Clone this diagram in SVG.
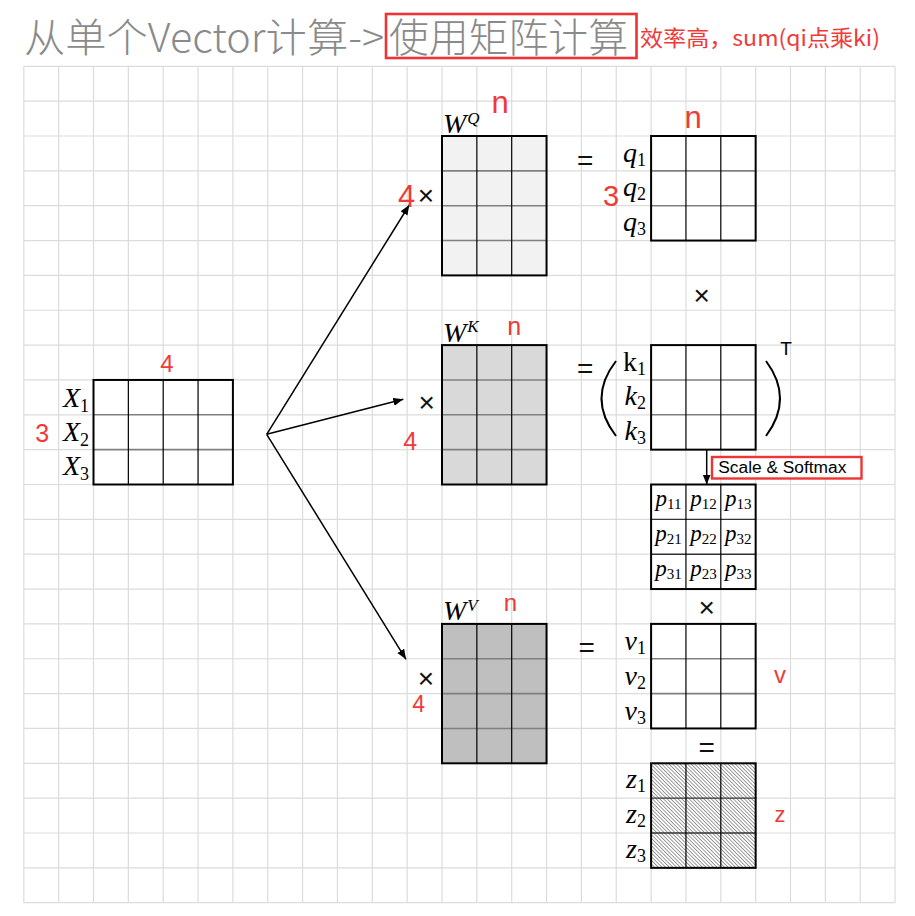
<svg xmlns="http://www.w3.org/2000/svg" width="915" height="916" viewBox="0 0 915 916">
<style>
.grid{stroke:#dcdcdc;stroke-width:1.2;fill:none}
.outer{fill:none;stroke:#000;stroke-width:2}
.vl{stroke:#000;stroke-width:1.2}
.hl{stroke:#808080;stroke-width:1.6}
.hd{stroke:#333;stroke-width:1.4}
.m{font-family:"Liberation Serif","DejaVu Serif",serif;font-style:italic;font-size:28px;fill:#000}
.mu{font-style:normal}
.sub{font-style:normal;font-size:18px}
.sup{font-size:17px}
.pp{font-family:"Liberation Serif","DejaVu Serif",serif;font-style:italic;font-size:23px;text-anchor:middle}
.psub{font-style:normal;font-size:15px}
.red{font-family:"Liberation Sans",Arial,sans-serif;fill:#f03a3a;text-anchor:middle}
.op{font-family:"Liberation Sans",Arial,sans-serif;font-size:28px;text-anchor:middle;fill:#111}
.conn{stroke:#000;stroke-width:1.5;fill:none}
.title{font-family:"Noto Sans CJK SC","Liberation Sans",sans-serif;font-size:40px;font-weight:300;fill:#8a8a8a}
</style>
<defs>
<marker id="ah" markerUnits="userSpaceOnUse" markerWidth="12" markerHeight="10" refX="10" refY="4" orient="auto">
<path d="M0,0 L10,4 L0,8 Z" fill="#000"/>
</marker>
<pattern id="hatch" patternUnits="userSpaceOnUse" width="2.6" height="2.6" patternTransform="rotate(-45)">
<rect width="2.6" height="2.6" fill="#fff"/>
<line x1="0" y1="0" x2="0" y2="2.6" stroke="#3a3a3a" stroke-width="1"/>
</pattern>
</defs>
<rect width="915" height="916" fill="#fff"/>

<g id="title">
<text class="title" x="24" y="51.5" textLength="360" lengthAdjust="spacingAndGlyphs">从单个Vector计算-&gt;</text>
<text class="title" x="389" y="51.5" textLength="239" lengthAdjust="spacingAndGlyphs">使用矩阵计算</text>
<rect x="386" y="14" width="250.5" height="44" fill="none" stroke="#ee3535" stroke-width="2.6"/>
<text x="640" y="46" font-family="'Noto Sans CJK SC','Liberation Sans',sans-serif" font-size="22" fill="#f03a3a" textLength="240" lengthAdjust="spacingAndGlyphs">效率高，sum(qi点乘ki)</text>
</g>

<g id="grid">
<path class="grid" d="M23.8 66.3V902.7M58.65 66.3V902.7M93.5 66.3V902.7M128.35 66.3V902.7M163.2 66.3V902.7M198.05 66.3V902.7M232.9 66.3V902.7M267.75 66.3V902.7M302.6 66.3V902.7M337.45 66.3V902.7M372.3 66.3V902.7M407.15 66.3V902.7M442 66.3V902.7M476.85 66.3V902.7M511.7 66.3V902.7M546.55 66.3V902.7M581.4 66.3V902.7M616.25 66.3V902.7M651.1 66.3V902.7M685.95 66.3V902.7M720.8 66.3V902.7M755.65 66.3V902.7M790.5 66.3V902.7M825.35 66.3V902.7M860.2 66.3V902.7M895.05 66.3V902.7"/>
<path class="grid" d="M23.8 66.3H895.05M23.8 101.15H895.05M23.8 136H895.05M23.8 170.85H895.05M23.8 205.7H895.05M23.8 240.55H895.05M23.8 275.4H895.05M23.8 310.25H895.05M23.8 345.1H895.05M23.8 379.95H895.05M23.8 414.8H895.05M23.8 449.65H895.05M23.8 484.5H895.05M23.8 519.35H895.05M23.8 554.2H895.05M23.8 589.05H895.05M23.8 623.9H895.05M23.8 658.75H895.05M23.8 693.6H895.05M23.8 728.45H895.05M23.8 763.3H895.05M23.8 798.15H895.05M23.8 833H895.05M23.8 867.85H895.05M23.8 902.7H895.05"/>
</g>

<g id="connectors">
<line class="conn" x1="266.7" y1="434.3" x2="409.3" y2="205" marker-end="url(#ah)"/>
<line class="conn" x1="266.7" y1="434.3" x2="403.3" y2="399.3" marker-end="url(#ah)"/>
<line class="conn" x1="266.7" y1="434.3" x2="406" y2="659.3" marker-end="url(#ah)"/>
<line class="conn" x1="706.7" y1="449.65" x2="706.7" y2="484.5" marker-end="url(#ah)"/>
</g>

<g id="X">
<rect x="93.5" y="379.95" width="139.4" height="104.55" fill="#fff"/>
<path class="hl" d="M93.5 414.8H232.9M93.5 449.65H232.9"/>
<path class="vl" d="M128.35 379.95V484.5M163.2 379.95V484.5M198.05 379.95V484.5"/>
<rect class="outer" x="93.5" y="379.95" width="139.4" height="104.55"/>
<text class="m" x="89" y="406.5" text-anchor="end">X<tspan class="sub" dy="5">1</tspan></text>
<text class="m" x="89" y="441.3" text-anchor="end">X<tspan class="sub" dy="5">2</tspan></text>
<text class="m" x="89" y="475" text-anchor="end">X<tspan class="sub" dy="5">3</tspan></text>
<text class="red" x="167" y="372.3" font-size="24">4</text>
<text class="red" x="42.3" y="441.7" font-size="25">3</text>
</g>

<g id="WQ">
<rect x="442" y="136" width="104.55" height="139.4" fill="#f2f2f2"/>
<path class="hl" d="M442 170.85H546.55M442 205.7H546.55M442 240.55H546.55"/>
<path class="vl" d="M476.85 136V275.4M511.7 136V275.4"/>
<rect class="outer" x="442" y="136" width="104.55" height="139.4"/>
<text class="m" x="443" y="132.5" font-size="27">W<tspan class="sup" dx="1" dy="-9">Q</tspan></text>
<text class="red" x="500" y="113.3" font-size="31">n</text>
<text class="red" x="406.5" y="206.7" font-size="31">4</text>
<text class="op" x="426" y="205">×</text>
</g>

<g id="q">
<rect x="651.1" y="136" width="104.55" height="104.55" fill="#fff"/>
<path class="hl" d="M651.1 170.85H755.65M651.1 205.7H755.65"/>
<path class="vl" d="M685.95 136V240.55M720.8 136V240.55"/>
<rect class="outer" x="651.1" y="136" width="104.55" height="104.55"/>
<text class="m" x="646" y="161.5" text-anchor="end">q<tspan class="sub" dy="4">1</tspan></text>
<text class="m" x="646" y="196.3" text-anchor="end">q<tspan class="sub" dy="4">2</tspan></text>
<text class="m" x="646" y="231.1" text-anchor="end">q<tspan class="sub" dy="4">3</tspan></text>
<text class="red" x="693" y="128.3" font-size="31">n</text>
<text class="red" x="611" y="206" font-size="29">3</text>
<text class="op" x="585.3" y="170">=</text>
</g>

<g id="times1">
<text class="op" x="701.7" y="305">×</text>
</g>

<g id="WK">
<rect x="442" y="345.1" width="104.55" height="139.4" fill="#d9d9d9"/>
<path class="hl" d="M442 379.95H546.55M442 414.8H546.55M442 449.65H546.55"/>
<path class="vl" d="M476.85 345.1V484.5M511.7 345.1V484.5"/>
<rect class="outer" x="442" y="345.1" width="104.55" height="139.4"/>
<text class="m" x="443" y="341.5" font-size="27">W<tspan class="sup" dx="1" dy="-10">K</tspan></text>
<text class="red" x="514.2" y="335" font-size="25">n</text>
<text class="red" x="410.3" y="450" font-size="25">4</text>
<text class="op" x="426.7" y="411.7">×</text>
</g>

<g id="k">
<rect x="651.1" y="345.1" width="104.55" height="104.55" fill="#fff"/>
<path class="hl" d="M651.1 379.95H755.65M651.1 414.8H755.65"/>
<path class="vl" d="M685.95 345.1V449.65M720.8 345.1V449.65"/>
<rect class="outer" x="651.1" y="345.1" width="104.55" height="104.55"/>
<text class="m" x="646" y="370.5" text-anchor="end"><tspan class="mu">k</tspan><tspan class="sub" dy="4">1</tspan></text>
<text class="m" x="646" y="405.4" text-anchor="end">k<tspan class="sub" dy="4">2</tspan></text>
<text class="m" x="646" y="440.2" text-anchor="end">k<tspan class="sub" dy="4">3</tspan></text>
<path d="M616 361 Q587 398.5 616 436" fill="none" stroke="#000" stroke-width="2"/>
<path d="M766 361 Q794 398.5 766 436" fill="none" stroke="#000" stroke-width="2"/>
<text x="786" y="355" font-family="'Liberation Sans',Arial,sans-serif" font-size="19" text-anchor="middle">T</text>
<text class="op" x="585.3" y="378">=</text>
</g>

<g id="softmax">
<rect x="712" y="457" width="149.5" height="21.5" fill="#fff" stroke="#ee3535" stroke-width="2.4"/>
<text x="718.3" y="473.3" font-family="'Liberation Sans',Arial,sans-serif" font-size="16" textLength="128" lengthAdjust="spacingAndGlyphs">Scale &amp; Softmax</text>
</g>

<g id="p">
<rect x="651.1" y="484.5" width="104.55" height="104.55" fill="#fff"/>
<path class="hd" d="M651.1 519.35H755.65M651.1 554.2H755.65"/>
<path class="vl" d="M685.95 484.5V589.05M720.8 484.5V589.05"/>
<rect class="outer" x="651.1" y="484.5" width="104.55" height="104.55"/>
<text class="pp" x="668.5" y="506">p<tspan class="psub" dy="3">11</tspan></text>
<text class="pp" x="703.4" y="506">p<tspan class="psub" dy="3">12</tspan></text>
<text class="pp" x="738.2" y="506">p<tspan class="psub" dy="3">13</tspan></text>
<text class="pp" x="668.5" y="540.8">p<tspan class="psub" dy="3">21</tspan></text>
<text class="pp" x="703.4" y="540.8">p<tspan class="psub" dy="3">22</tspan></text>
<text class="pp" x="738.2" y="540.8">p<tspan class="psub" dy="3">32</tspan></text>
<text class="pp" x="668.5" y="575.6">p<tspan class="psub" dy="3">31</tspan></text>
<text class="pp" x="703.4" y="575.6">p<tspan class="psub" dy="3">23</tspan></text>
<text class="pp" x="738.2" y="575.6">p<tspan class="psub" dy="3">33</tspan></text>
</g>

<g id="times2">
<text class="op" x="706.7" y="616.7">×</text>
</g>

<g id="WV">
<rect x="442" y="623.9" width="104.55" height="139.4" fill="#bfbfbf"/>
<path class="hl" d="M442 658.75H546.55M442 693.6H546.55M442 728.45H546.55"/>
<path class="vl" d="M476.85 623.9V763.3M511.7 623.9V763.3"/>
<rect class="outer" x="442" y="623.9" width="104.55" height="139.4"/>
<text class="m" x="443" y="620" font-size="27">W<tspan class="sup" dx="1" dy="-9">V</tspan></text>
<text class="red" x="510.5" y="610.7" font-size="24">n</text>
<text class="red" x="418.7" y="711.7" font-size="23">4</text>
<text class="op" x="426" y="688">×</text>
</g>

<g id="v">
<rect x="651.1" y="623.9" width="104.55" height="104.55" fill="#fff"/>
<path class="hl" d="M651.1 658.75H755.65M651.1 693.6H755.65"/>
<path class="vl" d="M685.95 623.9V728.45M720.8 623.9V728.45"/>
<rect class="outer" x="651.1" y="623.9" width="104.55" height="104.55"/>
<text class="m" x="646" y="650" text-anchor="end">v<tspan class="sub" dy="4">1</tspan></text>
<text class="m" x="646" y="685" text-anchor="end">v<tspan class="sub" dy="4">2</tspan></text>
<text class="m" x="646" y="720" text-anchor="end">v<tspan class="sub" dy="4">3</tspan></text>
<text class="red" x="780" y="682.7" font-size="24">v</text>
<text class="op" x="586.7" y="656.7">=</text>
</g>

<g id="eq2">
<text class="op" x="706.7" y="756.7">=</text>
</g>

<g id="z">
<rect x="651.1" y="763.3" width="104.55" height="104.55" fill="url(#hatch)"/>
<path class="hd" d="M651.1 798.15H755.65M651.1 833H755.65"/>
<path class="vl" d="M685.95 763.3V867.85M720.8 763.3V867.85"/>
<rect class="outer" x="651.1" y="763.3" width="104.55" height="104.55"/>
<text class="m" x="646" y="788.3" text-anchor="end">z<tspan class="sub" dy="4">1</tspan></text>
<text class="m" x="646" y="823.2" text-anchor="end">z<tspan class="sub" dy="4">2</tspan></text>
<text class="m" x="646" y="858" text-anchor="end">z<tspan class="sub" dy="4">3</tspan></text>
<text class="red" x="780" y="821.7" font-size="22">z</text>
</g>
</svg>
